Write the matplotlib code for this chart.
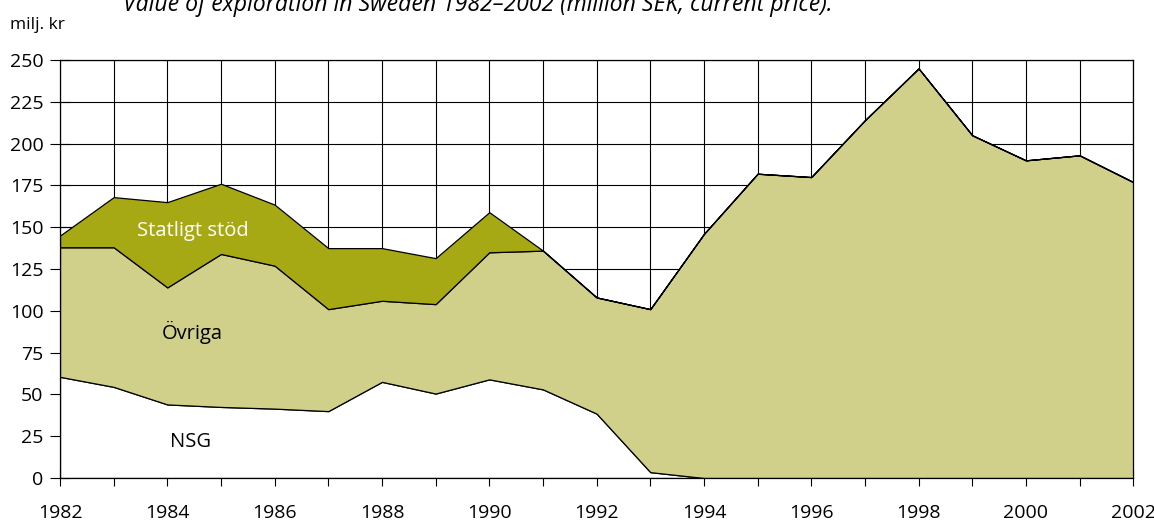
import numpy as np
import matplotlib
matplotlib.use("Agg")
from matplotlib import pyplot as plt

# data (milj. kr)
years = list(range(1982, 2003))
nsg = [60.5, 54.5, 44, 42.5, 41.5, 40, 57.5, 50.5, 59, 53, 38.5, 3.5,
       0, 0, 0, 0, 0, 0, 0, 0, 0]
ovriga = [77.5, 83.5, 70, 91.5, 85.5, 61, 48.5, 53.5, 76, 83, 69.5, 97.5,
          146, 182, 180, 214, 245, 205, 190, 193, 177]
statligt = [7, 30, 51, 42, 36.5, 36.5, 31.5, 27.5, 24, 0, 0, 0,
            0, 0, 0, 0, 0, 0, 0, 0, 0]
layer_names = ["NSG", "Övriga", "Statligt stöd"]
yticks = list(range(0, 251, 25))
xticks = list(range(1982, 2003, 2))

plt.rcParams["font.family"] = ["Open Sans", "DejaVu Sans"]

fig = plt.figure(figsize=(11.54, 5.22), dpi=100)
ax = fig.add_axes([0.052, 0.0843, 0.930, 0.8007])

ax.stackplot(years, nsg, ovriga, statligt,
             colors=["white", "#d0d08a", "#a6a914"],
             edgecolor="black", linewidth=0.9, zorder=3)

ax.set_xlim(1982, 2002)
ax.set_ylim(0, 250)
ax.set_xticks(xticks)
ax.set_xticks(years, minor=True)
ax.set_yticks(yticks)
ax.grid(True, which="both", color="black", linewidth=0.8, zorder=1)
ax.set_axisbelow(True)
for s in ax.spines.values():
    s.set_linewidth(0.9)
    s.set_zorder(4)

ax.tick_params(axis="x", which="both", direction="inout", length=11,
               width=0.8, labelsize=14, pad=13)
ax.tick_params(axis="y", which="both", direction="inout", length=14,
               width=0.8, labelsize=14, pad=5)

# layer labels
ax.text(1984.48, 148, layer_names[2], color="white", fontsize=14.5,
        ha="center", va="center", zorder=5)
ax.text(1984.46, 87, layer_names[1], color="black", fontsize=14.5,
        ha="center", va="center", zorder=5)
ax.text(1984.44, 21.5, layer_names[0], color="black", fontsize=14.5,
        ha="center", va="center", zorder=5)

fig.text(10 / 1154, 1 - 29 / 522, "milj. kr", fontsize=12.5,
         ha="left", va="baseline")
fig.text(478 / 1154, 1 - 11 / 522,
         "Value of exploration in Sweden 1982\u20132002 (million SEK, current price).",
         fontsize=16.6, style="italic", ha="center", va="baseline")

plt.savefig("out.png", dpi=100)
plt.close(fig)
